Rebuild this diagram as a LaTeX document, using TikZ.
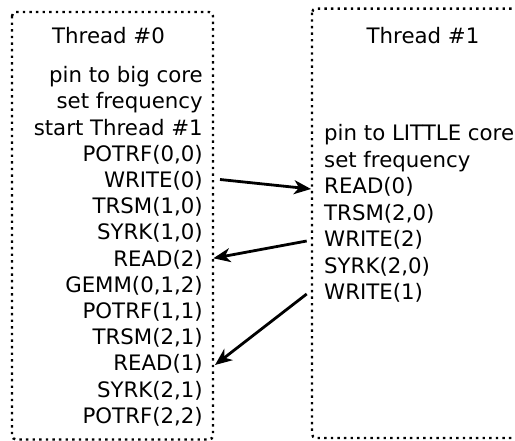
\documentclass[tikz,border=0pt]{standalone}
\usepackage{fontspec}
\setmainfont{DejaVu Sans}
\usetikzlibrary{arrows.meta}
\tikzset{
  thread/.style={line width=2.4pt, dash pattern=on 2.4pt off 4.2pt, rounded corners=4pt},
  task/.style={inner sep=0pt, font=\fontsize{21.3pt}{25pt}\selectfont},
  msg/.style={line width=2.8pt, -{Stealth[length=17pt,width=14pt,inset=5pt]}}
}
\begin{document}
\begin{tikzpicture}[x=1pt,y=-1pt]
    \useasboundingbox (0,0) rectangle (515,441);
    \clip (0,0) rectangle (515,441);
    \draw[thread] (12,12) rectangle (213,439.5);
    \draw[thread] (312,8.7) rectangle (545,438);
    % thread 0
    \node[task, anchor=base] (t0) at (108.5,43.3) {Thread \#0};
    \node[task, anchor=base east] (pinb) at (203,82.7) {pin to big core};
    \node[task, anchor=base east] (freqb) at (203,108.9) {set frequency};
    \node[task, anchor=base east] (start) at (203,135.1) {start Thread \#1};
    \node[task, anchor=base east] (potrfa) at (203,161.3) {POTRF(0,0)};
    \node[task, anchor=base east] (wra) at (203,187.5) {WRITE(0)};
    \node[task, anchor=base east] (trsma) at (203,213.7) {TRSM(1,0)};
    \node[task, anchor=base east] (syrka) at (203,239.9) {SYRK(1,0)};
    \node[task, anchor=base east] (rdc) at (203,266.1) {READ(2)};
    \node[task, anchor=base east] (gemm) at (203,292.3) {GEMM(0,1,2)};
    \node[task, anchor=base east] (potrfb) at (203,318.5) {POTRF(1,1)};
    \node[task, anchor=base east] (trsmb) at (203,344.7) {TRSM(2,1)};
    \node[task, anchor=base east] (rdb) at (203,370.9) {READ(1)};
    \node[task, anchor=base east] (syrkb) at (203,397.1) {SYRK(2,1)};
    \node[task, anchor=base east] (potrfc) at (203,423.3) {POTRF(2,2)};
    % thread 1
    \node[task, anchor=base] (t1) at (423,43.3) {Thread \#1};
    \node[task, anchor=base west] (pinl) at (324,140.7) {pin to LITTLE core};
    \node[task, anchor=base west] (freql) at (324,167.2) {set frequency};
    \node[task, anchor=base west] (rda) at (324,193.7) {READ(0)};
    \node[task, anchor=base west] (trsmc) at (324,220.2) {TRSM(2,0)};
    \node[task, anchor=base west] (wrc) at (324,246.7) {WRITE(2)};
    \node[task, anchor=base west] (syrkc) at (324,273.2) {SYRK(2,0)};
    \node[task, anchor=base west] (wrb) at (324,299.7) {WRITE(1)};
    % messages
    \draw[msg] ([xshift=17pt,yshift=8pt]wra.base east) -- ([xshift=-13pt,yshift=4.7pt]rda.base west);
    \draw[msg] ([xshift=-17.3pt,yshift=5.7pt]wrc.base west) -- ([xshift=10.3pt,yshift=7.8pt]rdc.base east);
    \draw[msg] ([xshift=-17.3pt,yshift=5.7pt]wrb.base west) -- ([xshift=12pt,yshift=5.9pt]rdb.base east);
\end{tikzpicture}
\end{document}
